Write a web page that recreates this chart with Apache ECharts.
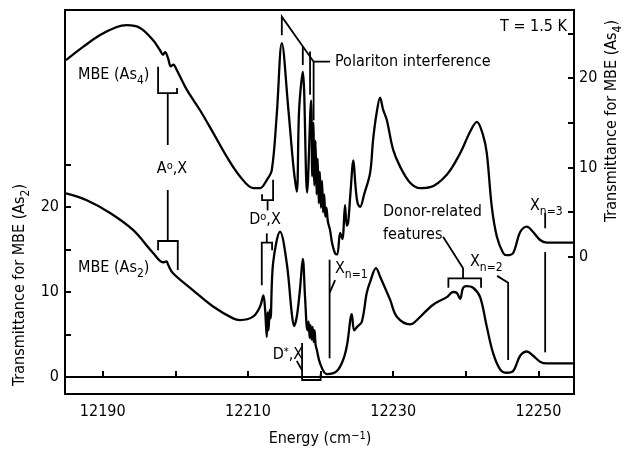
<!DOCTYPE html>
<html>
<head>
<meta charset="utf-8">
<script src="https://cdn.jsdelivr.net/npm/echarts@6/dist/echarts.min.js"></script>
<style>html,body{margin:0;padding:0;background:#fff}#main{width:626px;height:451px}</style>
</head>
<body>
<div id="main"></div>
<script>
// upper trace, MBE (As4), right axis
var energyAs4 = [
  12184.94, 12187.33, 12189.63, 12191.93, 12193.31, 12195.14, 12196.97, 12197.89, 12198.31, 12198.58,
  12199.0, 12199.37, 12199.72, 12200.19, 12201.57, 12203.40, 12205.19, 12207.08, 12208.91, 12210.74,
  12211.67, 12212.59, 12213.28, 12213.97, 12214.66, 12215.57, 12216.26, 12216.72, 12217.04, 12217.55,
  12218.14, 12218.69, 12218.85, 12219.0, 12219.15, 12219.3, 12219.45, 12219.6, 12219.75, 12219.9,
  12220.05, 12220.2, 12220.35, 12220.5, 12220.65, 12220.8, 12221.0, 12221.3, 12221.6, 12222.0,
  12222.3, 12222.69, 12223.0, 12223.37, 12223.6, 12223.79, 12224.1, 12224.52, 12224.8, 12225.1,
  12225.44, 12226.0, 12226.82, 12227.23, 12227.7, 12228.2, 12228.6, 12229.12, 12229.99, 12230.95,
  12232.33, 12233.71, 12235.09, 12237.38, 12239.22, 12240.59, 12241.52, 12242.38, 12242.89, 12243.58,
  12244.27, 12245.14, 12245.65, 12246.52, 12247.49, 12248.40, 12249.27, 12250.23, 12251.16, 12254.78
];
var transAs4 = [
  22.0, 23.5, 24.8, 25.7, 25.9, 25.6, 24.2, 23.1, 22.6, 22.9,
  22.2, 21.3, 21.5, 20.9, 18.7, 16.4, 13.9, 11.2, 9.0, 7.7,
  7.7, 8.6, 9.7, 16.0, 23.9, 16.4, 10.1, 7.3, 16.4, 20.7,
  7.2, 17.5, 9, 15, 8, 13, 7, 11, 6, 9.5,
  5.5, 8.5, 5, 7, 4.5, 5.5, 4, 3, 1.5, 0.4,
  0.3, 2.7, 2.0, 5.8, 3.5, 3.8, 7, 10.8, 8, 6,
  5.6, 7, 9.4, 13.1, 16, 17.8, 16.5, 15.3, 12, 10.1,
  8.3, 7.7, 7.8, 9.2, 11.6, 14.0, 15.1, 13.6, 11.6, 5.6,
  2.3, 0.45, 0.2, 0.45, 2.8, 3.4, 2.8, 1.9, 1.6, 1.6
];

// lower trace, MBE (As2), left axis
var energyAs2 = [
  12184.94, 12187.80, 12191.01, 12194.17, 12196.93, 12198.31, 12198.8, 12199.0, 12199.68, 12202.44,
  12205.19, 12207.95, 12208.91, 12210.70, 12211.67, 12212.12, 12212.36, 12212.59, 12212.7, 12212.84,
  12212.98, 12213.1, 12213.46, 12214.42, 12215.34, 12216.03, 12216.35, 12216.76, 12217.18, 12217.55,
  12217.86, 12218.18, 12218.35, 12218.49, 12218.62, 12218.76, 12218.9, 12219.04, 12219.17, 12219.31,
  12219.48, 12219.93, 12220.85, 12222.23, 12223.1, 12223.65, 12224.30, 12224.62, 12225.03, 12225.68,
  12226.36, 12226.82, 12227.64, 12228.20, 12229.57, 12230.50, 12232.33, 12232.74, 12235.50, 12237.38,
  12238.25, 12238.76, 12239.22, 12239.63, 12240.14, 12241.01, 12241.97, 12242.89, 12243.76, 12244.72,
  12245.65, 12246.52, 12247.49, 12248.40, 12249.27, 12250.23, 12251.16, 12254.78
];
var transAs2 = [
  21.6, 20.8, 19.3, 17.3, 14.6, 13.5, 13.6, 13.2, 12.2, 10.2,
  8.3, 6.9, 6.7, 7.1, 8.3, 9.6, 7.9, 4.7, 7.6, 5.5,
  7.9, 6.9, 13.4, 17.1, 13.4, 7.5, 6.0, 7.3, 10.5, 13.9,
  9.4, 5.5, 6.5, 4.6, 6.1, 4.4, 5.9, 4.1, 5.5, 3.8,
  3.2, 1.6, 0.35, 0.7, 2.0, 3.8, 7.4, 5.5, 5.9, 6.5,
  9.9, 11.2, 12.8, 11.8, 9.1, 7.1, 6.2, 6.3, 8.5, 9.4,
  10.0, 9.9, 9.2, 10.5, 10.7, 10.5, 9.4, 5.9, 2.8, 0.9,
  0.5, 0.7, 2.5, 3.0, 2.5, 1.8, 1.6, 1.6
];

var energyTicks = [12190, 12200, 12210, 12220, 12230, 12240, 12250];
var energyLabels = [12190, 12210, 12230, 12250];
var transTicks = [0, 5, 10, 15, 20, 25];
var transLabels = [0, 10, 20];

// pointer lines and brackets, in units of the As2 (left) axis
var guides = [
  [[12197.62, 36.5], [12197.62, 33.4], [12200.23, 33.4], [12200.23, 34.0]],
  [[12198.95, 33.4], [12198.95, 27.3]],
  [[12198.95, 22.0], [12198.95, 16.0]],
  [[12197.62, 14.9], [12197.62, 16.0], [12200.33, 16.0], [12200.33, 12.6]],
  [[12211.94, 21.5], [12211.94, 20.8], [12213.46, 20.8], [12213.46, 23.2]],
  [[12212.7, 20.8], [12212.7, 19.6]],
  [[12212.59, 16.9], [12212.59, 15.8]],
  [[12211.9, 10.8], [12211.9, 15.8], [12213.32, 15.8], [12213.32, 14.9]],
  [[12216.72, 1.9], [12217.45, 0.8]],
  [[12217.45, 4.0], [12217.45, -0.35], [12220.0, -0.35], [12220.0, 0.35]],
  [[12221.24, 13.8], [12221.24, 2.2]],
  [[12221.24, 9.9], [12222.0, 11.4]],
  [[12236.87, 16.5], [12239.62, 12.8], [12239.62, 11.6]],
  [[12237.6, 10.5], [12237.6, 11.6], [12242.1, 11.6], [12242.1, 10.5]],
  [[12244.31, 11.9], [12245.83, 11.1], [12245.83, 2.0]],
  [[12250.93, 19.3], [12250.93, 17.5]],
  [[12250.93, 14.7], [12250.93, 2.9]],
  [[12214.66, 40.2], [12214.66, 42.4], [12219.04, 37.1], [12221.31, 37.1]],
  [[12217.55, 38.9], [12217.55, 36.7]],
  [[12218.55, 38.3], [12218.55, 33.2]],
  [[12219.04, 37.1], [12219.04, 30.2]]
];

var FONT = "'DejaVu Sans Condensed', 'Liberation Sans Narrow', sans-serif";

function pairs(xs, ys) {
  return xs.map(function (x, i) { return [x, ys[i]]; });
}

function label(x, y, text, opts) {
  opts = opts || {};
  return {
    type: 'text', x: x, y: y, rotation: opts.rotation || 0, z: 100,
    style: {
      text: text,
      fill: '#000',
      font: '16px ' + FONT,
      fontFamily: FONT,
      fontSize: 16,
      textAlign: opts.align || 'left',
      align: opts.align || 'left',
      textVerticalAlign: 'middle',
      verticalAlign: 'middle',
      rich: {
        a: { fontFamily: FONT, fontSize: 16, lineHeight: 19, verticalAlign: 'top', fill: '#000' },
        sub: { fontFamily: FONT, fontSize: 12, lineHeight: 12, padding: [8, 0, 0, 0], verticalAlign: 'top', fill: '#000' },
        sup: { fontFamily: FONT, fontSize: 11, lineHeight: 11, padding: [0, 0, 0, 0], verticalAlign: 'top', fill: '#000' }
      }
    }
  };
}

var chart = echarts.init(document.getElementById('main'));

var axisText = {
  color: '#000', fontFamily: FONT, fontSize: 16,
  formatter: function (v) { return String(v); }
};

var option = {
  animation: false,
  grid: {
    left: 65, right: 52, top: 10, bottom: 57,
    show: true, borderColor: '#000', borderWidth: 2,
    containLabel: false, outerBoundsMode: 'none'
  },
  xAxis: {
    type: 'value', min: 12184.8, max: 12254.9,
    axisLine: { lineStyle: { color: '#000', width: 2 } },
    axisTick: { inside: true, length: 6, customValues: energyTicks, lineStyle: { color: '#000', width: 2 } },
    axisLabel: Object.assign({ margin: 10, customValues: energyLabels }, axisText),
    splitLine: { show: false }
  },
  yAxis: [{
    type: 'value', min: -2.0, max: 43.18, position: 'left',
    axisLine: { show: true, lineStyle: { color: '#000', width: 2 } },
    axisTick: { show: true, inside: true, length: 6, customValues: transTicks, lineStyle: { color: '#000', width: 2 } },
    axisLabel: Object.assign({ margin: 6, customValues: transLabels }, axisText),
    splitLine: { show: false }
  }, {
    type: 'value', min: -15.31, max: 27.6, position: 'right',
    axisLine: { show: true, lineStyle: { color: '#000', width: 2 } },
    axisTick: { show: true, inside: true, length: 6, customValues: transTicks, lineStyle: { color: '#000', width: 2 } },
    axisLabel: Object.assign({ margin: 5, customValues: transLabels }, axisText),
    splitLine: { show: false }
  }],
  series: [{
    name: 'MBE (As4)', type: 'line', yAxisIndex: 1,
    data: pairs(energyAs4, transAs4),
    showSymbol: false, smooth: 0.35,
    lineStyle: { color: '#000', width: 2.3 }
  }, {
    name: 'MBE (As2)', type: 'line', yAxisIndex: 0,
    data: pairs(energyAs2, transAs2),
    showSymbol: false, smooth: 0.35,
    lineStyle: { color: '#000', width: 2.3 }
  }, {
    name: 'guides', type: 'lines', coordinateSystem: 'cartesian2d',
    xAxisIndex: 0, yAxisIndex: 0, polyline: true,
    data: guides.map(function (g) { return { coords: g }; }),
    lineStyle: { color: '#000', width: 1.8, opacity: 1 }
  }],
  graphic: [
    label(567, 27, 'T = 1.5 K', { align: 'right' }),
    label(335, 62, 'Polariton interference'),
    label(78, 76, '{a|MBE (As}{sub|4}{a|)}'),
    label(172, 170, '{a|A}{sup|o}{a|,X}', { align: 'center' }),
    label(265, 221, '{a|D}{sup|o}{a|,X}', { align: 'center' }),
    label(78, 269, '{a|MBE (As}{sub|2}{a|)}'),
    label(288, 356, '{a|D}{sup|*}{a|,X}', { align: 'center' }),
    label(335, 270, '{a|X}{sub|n=1}'),
    label(383, 212, 'Donor-related'),
    label(383, 235, 'features'),
    label(470, 263, '{a|X}{sub|n=2}'),
    label(530, 207, '{a|X}{sub|n=3}'),
    label(320, 440, '{a|Energy (cm}{sup|\u22121}{a|)}', { align: 'center' }),
    label(21, 285, '{a|Transmittance for MBE (As}{sub|2}{a|)}', { align: 'center', rotation: Math.PI / 2 }),
    label(613, 121, '{a|Transmittance for MBE (As}{sub|4}{a|)}', { align: 'center', rotation: Math.PI / 2 })
  ]
};

chart.setOption(option);
</script>
</body>
</html>
